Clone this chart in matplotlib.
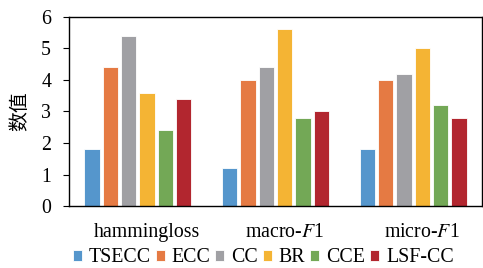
import matplotlib
matplotlib.use("Agg")
import matplotlib.pyplot as plt
import numpy as np

categories = ["hammingloss", "macro-$F$1", "micro-$F$1"]
methods = ["TSECC", "ECC", "CC", "BR", "CCE", "LSF-CC"]
TSECC = [1.8, 1.2, 1.8]
ECC = [4.4, 4.0, 4.0]
CC = [5.4, 4.4, 4.2]
BR = [3.6, 5.6, 5.0]
CCE = [2.4, 2.8, 3.2]
LSF_CC = [3.4, 3.0, 2.8]
series = [TSECC, ECC, CC, BR, CCE, LSF_CC]
colors = ["#5596CC", "#E57A43", "#A0A0A4", "#F4B434", "#73A856", "#B2262F"]

plt.rcParams["font.family"] = ["Liberation Serif", "DejaVu Serif"]
plt.rcParams["mathtext.fontset"] = "stix"

fs = 14.3
fig = plt.figure(figsize=(4.83, 2.68), dpi=100)
ax = fig.add_axes([0.143, 0.231, 0.855, 0.706])

x = np.arange(len(categories))
step = 0.133
width = 0.112
for i, (vals, c, name) in enumerate(zip(series, colors, methods)):
    ax.bar(x + (i - 2.5) * step, vals, width, color=c, edgecolor="white",
           linewidth=0.6, label=name, zorder=2)

ax.set_xlim(-0.5, 2.5)
ax.set_ylim(0, 6)
ax.set_yticks(range(0, 7))
ax.tick_params(axis="y", direction="out", length=4, width=0.8, labelsize=fs, pad=9)
ax.set_xticks(x + 0.065)
ax.set_xticklabels(categories)
ax.tick_params(axis="x", direction="in", length=4, width=0.8, labelsize=fs, pad=12)
for s in ax.spines.values():
    s.set_linewidth(1.0)
ax.set_ylabel("数值", family=["Noto Sans CJK SC", "DejaVu Sans"], fontsize=fs, labelpad=8)

fig.legend(loc="center", bbox_to_anchor=(0.545, 0.038), ncol=6, frameon=False,
           fontsize=fs, handlelength=0.45, handleheight=0.45, handletextpad=0.35,
           columnspacing=0.25, borderaxespad=0)

fig.savefig("out.png", dpi=100)
